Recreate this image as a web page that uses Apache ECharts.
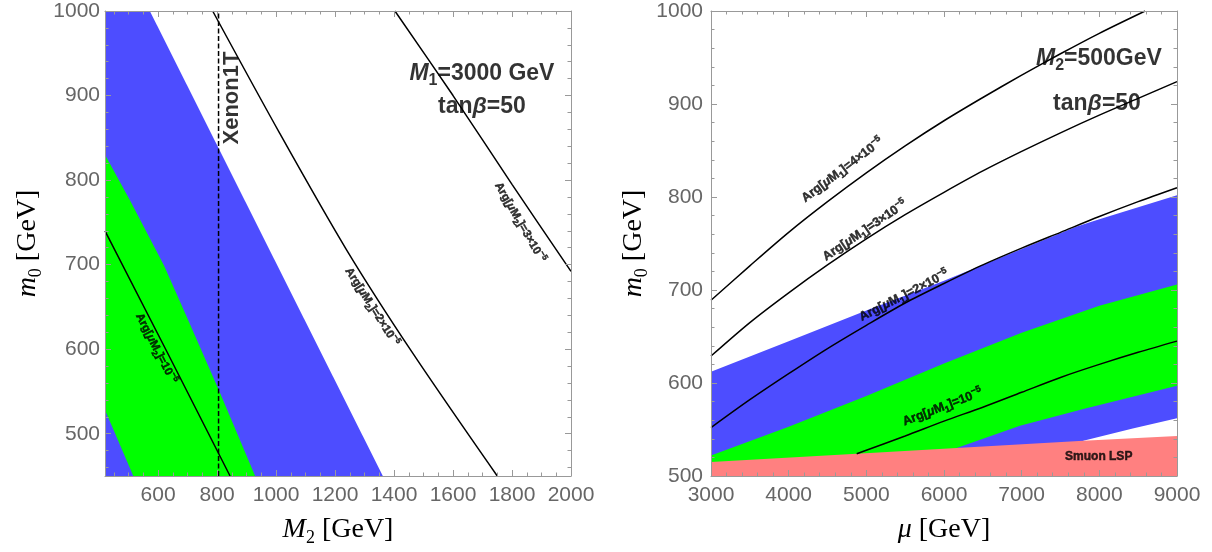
<!DOCTYPE html>
<html>
<head>
<meta charset="utf-8">
<script src="https://cdn.jsdelivr.net/npm/echarts@6/dist/echarts.min.js"></script>
<style>html,body{margin:0;padding:0;background:#fff}#c{width:1212px;height:552px}</style>
</head>
<body>
<div id="c"></div>
<script>
// ---------- Left panel: M2 [GeV] vs m0 [GeV] ----------
const leftXRange = [420, 2000];
const leftYRange = [450, 1000];
const leftXTicks = [600, 800, 1000, 1200, 1400, 1600, 1800, 2000];
const leftYTicks = [500, 600, 700, 800, 900, 1000];
const leftBlue = [[420,1000],[572,1000],[1362,450],[420,450]];
const leftGreen = [[420,830],[505,776],[620,699],[700,636],[808,550],[929,450],[516,450],[420,528]];
const leftArg1 = [[420,740],[630,597],[844,450]];
const leftArg2 = [[785,1000],[1013,855],[1240,717],[1464,595],[1750,450]];
const leftArg3 = [[1403,1000],[1600,900],[1800,795],[2000,692]];
const xenonLine = [[805,450],[805,1000]];

// ---------- Right panel: mu [GeV] vs m0 [GeV] ----------
const rightXRange = [3000, 9000];
const rightYRange = [500, 1000];
const rightXTicks = [3000, 4000, 5000, 6000, 7000, 8000, 9000];
const rightYTicks = [500, 600, 700, 800, 900, 1000];
const rightBlue = [[3000,612],[4000,645],[5000,678],[6000,710],[7000,744],[7700,768],[8000,776],[9000,802],
                   [9000,562],[8430,551],[7794,538],[7794,500],[3000,500]];
const rightGreen = [[3000,522],[4000,553],[5000,586],[6000,621],[7000,654],[8000,683],[9000,706],
                    [9000,597],[7794,572],[6978,554],[6163,530],[6000,500],[3000,500]];
const rightRed = [[3000,500],[3000,515],[4876,524],[6163,530],[7794,538],[9000,543],[9000,500]];
const rightArg1 = [[4876,524],[5500,543],[6000,559],[6500,574],[7000,590],[7500,606],[8000,620],[8500,633],[9000,645]];
const rightArg2 = [[3000,552],[3500,582],[4000,610],[4500,637],[5000,662],[5500,686],[6000,707],[6500,727],[7000,745],[7500,762],[8000,779],[8500,795],[9000,810]];
const rightArg3 = [[3000,629],[3500,665],[4000,697],[4500,727],[5000,755],[5500,781],[6000,805],[6500,828],[7000,849],[7500,869],[8000,888],[8500,906],[9000,924]];
const rightArg4 = [[3000,689],[3500,726],[4000,762],[4500,795],[5000,826],[5500,855],[6000,882],[6500,907],[7000,931],[7500,954],[8000,976],[8590,1000]];

// ---------- Text annotations (data coordinates) ----------
const leftNotes = [
  {at:[1698,926], text:'{i|M}{sub|1}=3000 GeV', size:23, rot:0},
  {at:[1698,887], text:'tan{i|β}=50', size:23, rot:0},
  {at:[851,897], text:'Xenon1T', size:22, rot:90},
  {at:[593,601], text:'Arg[{i|μ}M{sub|2}]=10{sup|−5}', size:11.5, rot:-63, heavy:true},
  {at:[1325,650], text:'Arg[{i|μ}M{sub|2}]=2×10{sup|−5}', size:11.5, rot:-57.5, heavy:true},
  {at:[1827,750], text:'Arg[{i|μ}M{sub|2}]=3×10{sup|−5}', size:11.5, rot:-60, heavy:true}
];
const rightNotes = [
  {at:[7995,949], text:'{i|M}{sub|2}=500GeV', size:23, rot:0},
  {at:[7970,900], text:'tan{i|β}=50', size:23, rot:0},
  {at:[7992,520.6], text:'Smuon LSP', size:12, rot:0, heavy:true},
  {at:[4693,829], text:'Arg[{i|μ}M{sub|1}]=4×10{sup|−5}', size:12.5, rot:37, heavy:true},
  {at:[4983,764], text:'Arg[{i|μ}M{sub|1}]=3×10{sup|−5}', size:12.5, rot:34, heavy:true},
  {at:[5485,694], text:'Arg[{i|μ}M{sub|1}]=2×10{sup|−5}', size:12.5, rot:27, heavy:true},
  {at:[5981,574], text:'Arg[{i|μ}M{sub|1}]=10{sup|−5}', size:12.5, rot:21, heavy:true}
];

const BLUE = '#4d4dff', GREEN = '#00ff00', RED = '#ff8080';
const SANS = 'Liberation Sans, Arial, sans-serif';
const SERIF = 'Liberation Serif, Times New Roman, serif';
const FRAME = '#999999';

function range(a, b, s) { const r = []; for (let v = a; v <= b + 1e-9; v += s) r.push(v); return r; }

const nameStyle = {
  fontFamily: SERIF, fontSize: 28, lineHeight: 34, color: '#000',
  rich: {
    i: {fontFamily: SERIF, fontStyle: 'italic', fontSize: 28, lineHeight: 34},
    sub: {fontFamily: SERIF, fontSize: 18, lineHeight: 18, verticalAlign: 'bottom'}
  }
};

function axesFor(dim, gridIndex, ext, majors, minors, name, labelMargin) {
  const sides = dim === 'x' ? ['bottom', 'top'] : ['left', 'right'];
  const base = {type: 'value', gridIndex, min: ext[0], max: ext[1], splitLine: {show: false}, z: 10};
  const tl = {color: FRAME, width: 1};
  const out = [];
  sides.forEach((pos, k) => {
    out.push(Object.assign({}, base, {
      position: pos,
      axisLine: {show: true, onZero: false, lineStyle: {color: FRAME, width: 1}},
      axisTick: {show: true, inside: true, length: 6, customValues: majors, lineStyle: tl},
      axisLabel: k === 0 ? {show: true, customValues: majors, formatter: v => String(v),
                            fontFamily: SANS, fontSize: 21, color: '#666', margin: labelMargin} : {show: false},
      name: k === 0 ? name : '',
      nameLocation: 'middle',
      nameGap: dim === 'x' ? 37 : 60,
      nameTextStyle: nameStyle
    }));
    out.push(Object.assign({}, base, {
      position: pos,
      axisLine: {show: false, onZero: false},
      axisTick: {show: true, inside: true, length: 3.5, customValues: minors, lineStyle: tl},
      axisLabel: {show: false}
    }));
  });
  return out;
}

const xAxes = [].concat(
  axesFor('x', 0, leftXRange, leftXTicks, range(450, 2000, 50), '{i|M}{sub|2} [GeV]', 9),
  axesFor('x', 1, rightXRange, rightXTicks, range(3000, 9000, 200), '{i|μ} [GeV]', 9)
);
const yAxes = [].concat(
  axesFor('y', 0, leftYRange, leftYTicks, range(460, 1000, 20), '{i|m}{sub|0} [GeV]', 5),
  axesFor('y', 1, rightYRange, rightYTicks, range(500, 1000, 20), '{i|m}{sub|0} [GeV]', 8)
);

function polygon(points, color, axisIdx, z) {
  return {
    type: 'custom', xAxisIndex: axisIdx, yAxisIndex: axisIdx, z: z, silent: true, clip: true,
    data: [points[0]],
    renderItem: function (params, api) {
      return {type: 'polygon', shape: {points: points.map(p => api.coord(p))}, style: {fill: color}};
    }
  };
}
function curve(points, axisIdx, smooth, extra) {
  return Object.assign({
    type: 'line', xAxisIndex: axisIdx, yAxisIndex: axisIdx, data: points, symbol: 'none',
    smooth: smooth, z: 5, silent: true,
    lineStyle: {color: '#000', width: 1.5}
  }, extra || {});
}
function notes(list, axisIdx) {
  return {
    type: 'scatter', xAxisIndex: axisIdx, yAxisIndex: axisIdx, symbolSize: 0.1, z: 8, silent: true,
    itemStyle: {color: 'rgba(0,0,0,0)'},
    data: list.map(n => {
      const bw = n.heavy ? 0.45 : 0;
      const bc = n.heavy ? '#000' : 'transparent';
      const common = {fontFamily: SANS, fontWeight: 'bold', textBorderColor: bc, textBorderWidth: bw};
      const small = Math.round(n.size * 0.68);
      return {
        value: n.at,
        label: Object.assign({
          show: true, position: 'inside', formatter: n.text, rotate: n.rot,
          fontSize: n.size, lineHeight: Math.round(n.size * 1.35), color: '#000',
          align: 'center', verticalAlign: 'middle',
          rich: {
            i: Object.assign({fontStyle: 'italic', fontSize: n.size, lineHeight: Math.round(n.size * 1.35)}, common),
            sub: Object.assign({fontSize: small, lineHeight: small, verticalAlign: 'bottom'}, common),
            sup: Object.assign({fontSize: small, lineHeight: small, verticalAlign: 'top'}, common)
          }
        }, common)
      };
    })
  };
}

const option = {
  animation: false,
  backgroundColor: '#fff',
  grid: [
    {left: 105, top: 11, width: 466, height: 465},
    {left: 711, top: 11, width: 466, height: 465}
  ],
  xAxis: xAxes,
  yAxis: yAxes,
  series: [
    polygon(leftBlue, BLUE, 0, 1),
    polygon(leftGreen, GREEN, 0, 2),
    curve(leftArg1, 0, false),
    curve(leftArg2, 0, 0.3),
    curve(leftArg3, 0, 0.3),
    curve(xenonLine, 0, false, {lineStyle: {color: '#000', width: 1.5, type: [5, 2.5]}}),
    notes(leftNotes, 0),

    polygon(rightBlue, BLUE, 4, 1),
    polygon(rightGreen, GREEN, 4, 2),
    polygon(rightRed, RED, 4, 3),
    curve(rightArg1, 4, 0.3),
    curve(rightArg2, 4, 0.3),
    curve(rightArg3, 4, 0.3),
    curve(rightArg4, 4, 0.3),
    notes(rightNotes, 4)
  ]
};

const chart = echarts.init(document.getElementById('c'), null, {renderer: 'canvas'});
chart.setOption(option);
</script>
</body>
</html>
